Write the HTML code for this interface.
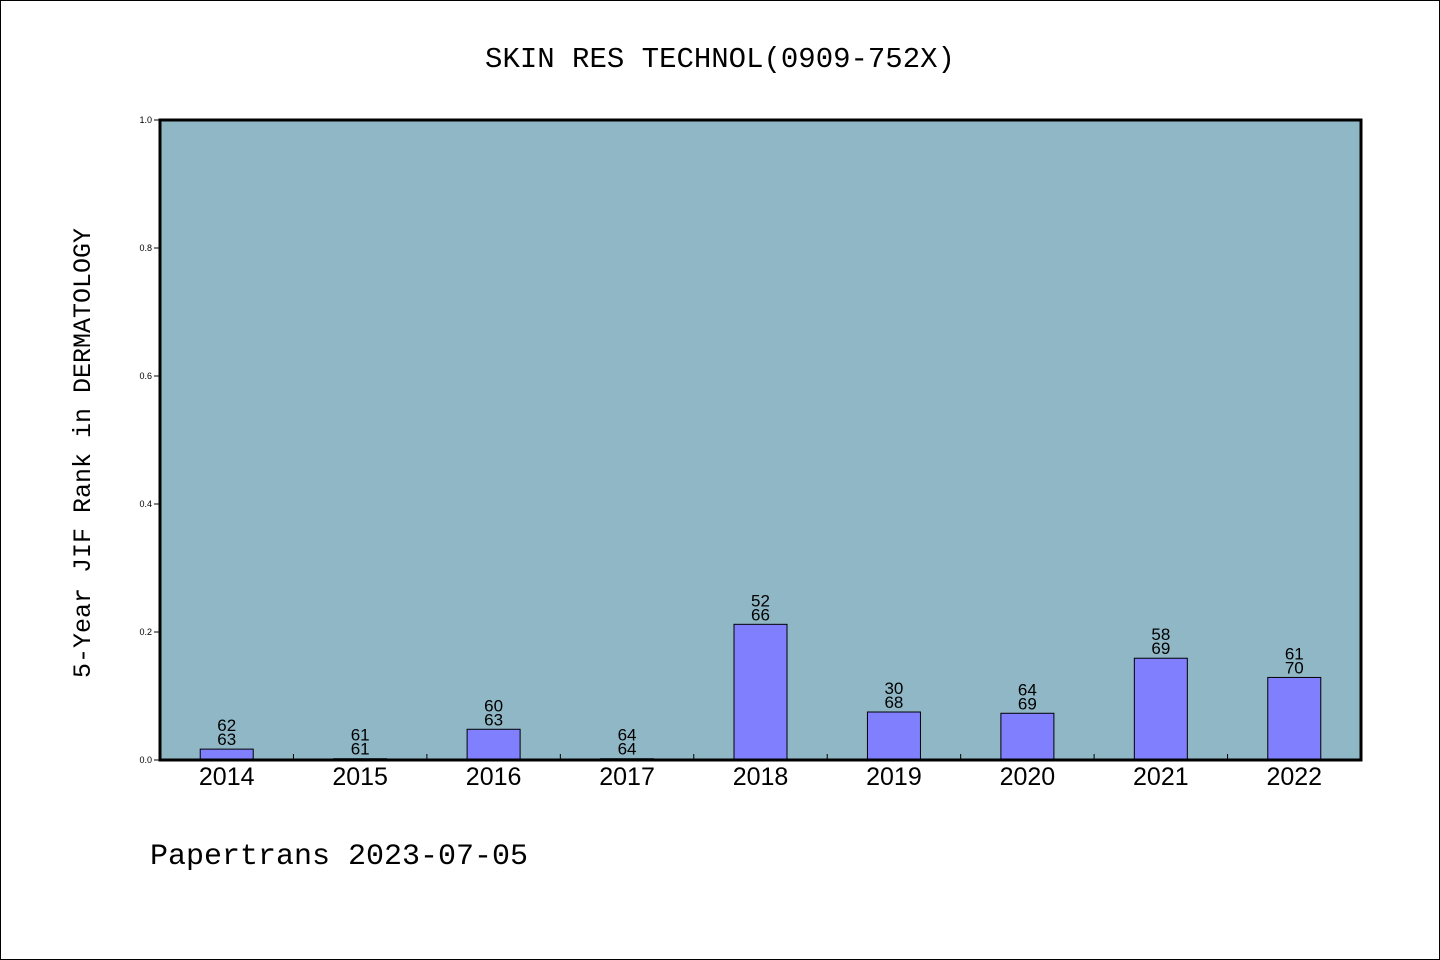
<!DOCTYPE html>
<html><head><meta charset="utf-8"><style>
body{margin:0;background:#fff}
svg{display:block}
</style></head><body>
<svg width="1440" height="960" xmlns="http://www.w3.org/2000/svg">
<rect x="0.5" y="0.5" width="1439" height="959" fill="#fff" stroke="#000"/>
<text x="720" y="67" text-anchor="middle" font-family="Liberation Mono, monospace" font-size="29">SKIN RES TECHNOL(0909-752X)</text>
<rect x="160" y="120" width="1201" height="640" fill="#8fb7c6"/>
<g id="ticks"></g>
<g id="bars"></g>
<rect x="160" y="120" width="1201" height="640" fill="none" stroke="#000" stroke-width="3"/>
<text transform="translate(90,453) rotate(-90)" text-anchor="middle" font-family="Liberation Mono, monospace" font-size="25">5-Year JIF Rank in DERMATOLOGY</text>
<text x="150" y="864" font-family="Liberation Mono, monospace" font-size="30">Papertrans 2023-07-05</text>
</svg>
<script>
const categories = ["2014","2015","2016","2017","2018","2019","2020","2021","2022"];
const values = [0.017, 0.002, 0.048, 0.002, 0.212, 0.075, 0.073, 0.159, 0.129];
const ranks = [62, 61, 60, 64, 52, 30, 64, 58, 61];
const totals = [63, 61, 63, 64, 66, 68, 69, 69, 70];
const yTicks = ["0.0","0.2","0.4","0.6","0.8","1.0"];

const NS = "http://www.w3.org/2000/svg";
const x0 = 160, x1 = 1361, yBase = 760, yTop = 120;
const step = (x1 - x0) / categories.length;
const xc = i => x0 + step * (i + 0.5);
const y = v => yBase - v * (yBase - yTop);
function mk(tag, attrs, parent, text) {
  const e = document.createElementNS(NS, tag);
  for (const k in attrs) e.setAttribute(k, attrs[k]);
  if (text !== undefined) e.textContent = text;
  parent.appendChild(e);
  return e;
}
const tg = document.getElementById("ticks");
const bg = document.getElementById("bars");
yTicks.forEach(t => {
  const yy = y(parseFloat(t));
  const l = mk("line", {x1: x0 - 6, x2: x0, y1: yy, y2: yy, stroke: "#000"}, tg);
  
  
  const tx = mk("text", {x: x0 - 8, y: yy + 3, "text-anchor": "end", "font-family": "Liberation Sans, sans-serif", "font-size": "9"}, tg, t);
  
  
});
for (let i = 1; i < categories.length; i++) {
  const xx = x0 + step * i;
  const l = mk("line", {x1: xx, x2: xx, y1: yBase, y2: yBase - 6, stroke: "#000"}, tg);
  
  
}
categories.forEach((c, i) => {
  const bw = 53;
  const top = y(values[i]);
  const r = mk("rect", {x: xc(i) - bw / 2, y: top, width: bw, height: yBase - top, fill: "#8080ff", stroke: "#000", "stroke-width": "1"}, bg);
  
  
  const a = mk("text", {x: xc(i), y: top - 18, "text-anchor": "middle", "font-family": "Liberation Sans, sans-serif", "font-size": "17"}, bg, ranks[i]);
  
  
  const b = mk("text", {x: xc(i), y: top - 4, "text-anchor": "middle", "font-family": "Liberation Sans, sans-serif", "font-size": "17"}, bg, totals[i]);
  
  
  const xl = mk("text", {x: xc(i), y: 785, "text-anchor": "middle", "font-family": "Liberation Sans, sans-serif", "font-size": "25"}, bg, c);
  
  
});
</script>
</body></html>
